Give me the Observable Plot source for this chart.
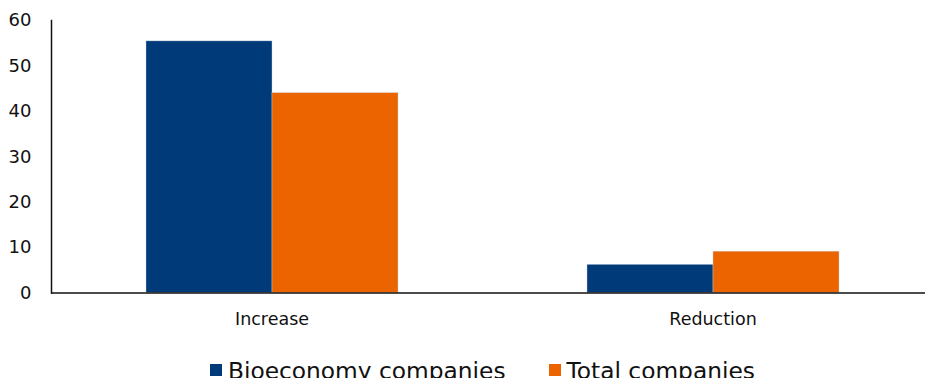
<!DOCTYPE html>
<html>
<head>
<meta charset="utf-8">
<script src="https://cdn.jsdelivr.net/npm/d3@7"></script>
<script src="https://cdn.jsdelivr.net/npm/@observablehq/plot@0.6"></script>
<style>
  html, body { margin: 0; padding: 0; background: #fff; overflow: hidden; }
  body { width: 925px; height: 378px; font-family: "DejaVu Sans", sans-serif; }
  #legend { display: flex; align-items: center; height: 40px; margin-top: 15px; padding-left: 210px; font-size: 23.3px; color: #111; white-space: nowrap; }
  .sw { display: inline-block; width: 12px; height: 12px; margin-right: 6px; }
  .item { display: flex; align-items: center; }
</style>
</head>
<body>
<div id="chart"></div>
<div id="legend"></div>
<script>
const categories = ["Increase", "Reduction"];
const seriesNames = ["Bioeconomy companies", "Total companies"];
const bioeconomy = [55.4, 6.2];
const total = [44.0, 9.1];
const yTicks = [0, 10, 20, 30, 40, 50, 60];
const colors = ["#003a78", "#ec6400"];

const data = [];
categories.forEach((c, i) => {
  data.push({category: c, series: seriesNames[0], value: bioeconomy[i]});
  data.push({category: c, series: seriesNames[1], value: total[i]});
});

const plot = Plot.plot({
  width: 925,
  height: 335,
  marginLeft: 50,
  marginRight: -8,
  marginTop: 20,
  marginBottom: 42.5,
  style: {fontFamily: "DejaVu Sans, sans-serif", fontSize: "17.5px", color: "#111"},
  fx: {domain: categories, padding: 0, label: null},
  x: {domain: seriesNames, paddingInner: 0, paddingOuter: 0.748, axis: null},
  y: {domain: [0, 60], label: null},
  color: {domain: seriesNames, range: colors},
  marks: [
    Plot.barY(data, {fx: "category", x: "series", y: "value", fill: "series", inset: 0, stroke: "#c9d3e0", strokeWidth: 0.4}),
    Plot.axisY(yTicks, {tickSize: 0, tickPadding: 20, label: null, fontSize: 18}),
    Plot.axisFx({anchor: "bottom", tickSize: 0, tickPadding: 20, label: null, fontSize: 17.5}),
    Plot.ruleY([0], {stroke: "#111", strokeWidth: 1.5}),
    Plot.frame({anchor: "left", facet: "super", stroke: "#111", strokeWidth: 1.5})
  ]
});
document.getElementById("chart").appendChild(plot);

const legend = document.getElementById("legend");
seriesNames.forEach((s, i) => {
  const item = document.createElement("span");
  item.className = "item";
  if (i > 0) item.style.marginLeft = "43px";
  const sw = document.createElement("span");
  sw.className = "sw";
  sw.style.background = colors[i];
  item.appendChild(sw);
  item.appendChild(document.createTextNode(s));
  legend.appendChild(item);
});
</script>
</body>
</html>
